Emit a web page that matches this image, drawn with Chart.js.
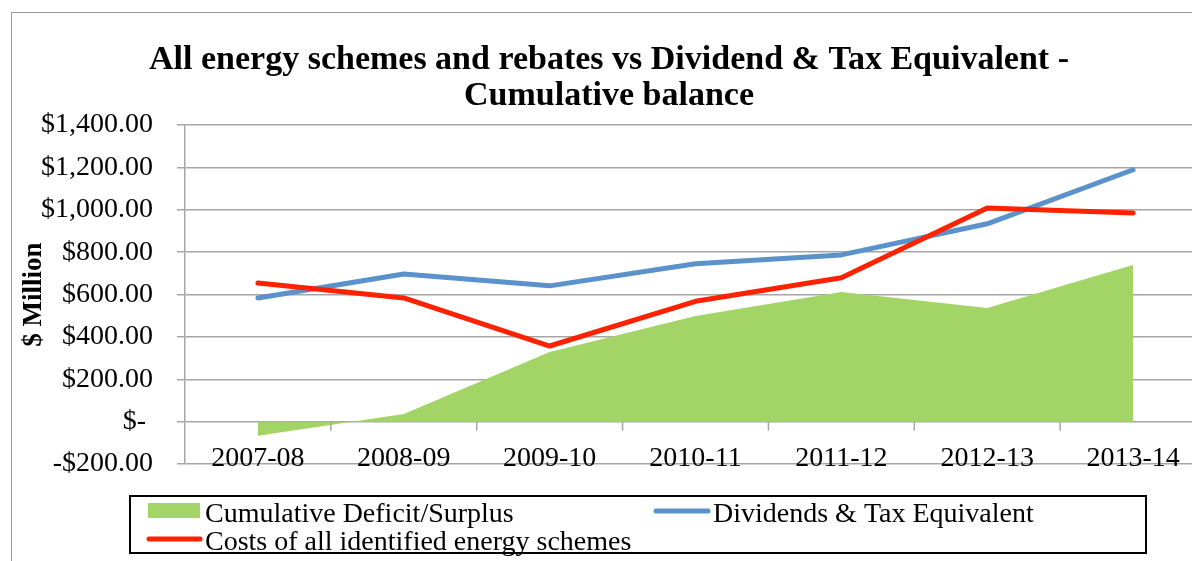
<!DOCTYPE html>
<html>
<head>
<meta charset="utf-8">
<script src="https://cdn.jsdelivr.net/npm/chart.js@4.4.0/dist/chart.umd.min.js"></script>
<style>
    html, body { margin: 0; padding: 0; background: #fff; overflow: hidden; width: 1192px; height: 561px; }
    #frame { position: absolute; left: 11px; top: 12px; width: 1300px; height: 700px; border: 1px solid #999; }
    #chart { position: absolute; left: 0; top: 0; }
</style>
</head>
<body>
<div id="frame"></div>
<canvas id="chart" width="1242" height="580"></canvas>
<script>
const years = ["2007-08", "2008-09", "2009-10", "2010-11", "2011-12", "2012-13", "2013-14"];
const surplus = [-67, 36, 329, 499, 612, 537, 740];
const dividends = [584, 697, 641, 745, 787, 934, 1189];
const costs = [655, 584, 357, 568, 679, 1009, 985];
const yMin = -200;
const yMax = 1400;
const yStep = 200;

const SERIF = "'Liberation Serif', 'Times New Roman', serif";

function formatDollars(v) {
    if (v === 0) return "$- ";
    const abs = Math.abs(v).toLocaleString("en-US", { minimumFractionDigits: 2, maximumFractionDigits: 2 });
    return (v < 0 ? "-$" : "$") + abs;
}

// small tick marks on the zero line, between categories
const zeroTicks = {
    id: "zeroTicks",
    afterDatasetsDraw(chart) {
        const x = chart.scales.x;
        const y = chart.scales.y;
        const ctx = chart.ctx;
        const step = x.getPixelForValue(1) - x.getPixelForValue(0);
        const y0 = y.getPixelForValue(0);
        ctx.save();
        ctx.strokeStyle = "#a6a6a6";
        ctx.lineWidth = 1.5;
        for (let i = 1; i < years.length; i++) {
            const px = x.getPixelForValue(i) - step / 2;
            ctx.beginPath();
            ctx.moveTo(px, y0);
            ctx.lineTo(px, y0 + 9);
            ctx.stroke();
        }
        ctx.restore();
    }
};

// category labels sit low, resting on the bottom gridline (Excel "low" labels)
const lowLabels = {
    id: "lowLabels",
    afterDraw(chart) {
        const x = chart.scales.x;
        const ctx = chart.ctx;
        ctx.save();
        ctx.font = "28px " + SERIF;
        ctx.fillStyle = "#000";
        ctx.textAlign = "center";
        ctx.textBaseline = "alphabetic";
        chart.data.labels.forEach((lab, i) => {
            ctx.fillText(lab, x.getPixelForValue(i), chart.chartArea.bottom + 2);
        });
        ctx.restore();
    }
};

// boxed legend like the spreadsheet one
const boxLegend = {
    id: "boxLegend",
    afterDraw(chart) {
        const ctx = chart.ctx;
        const ds = chart.data.datasets;
        ctx.save();
        ctx.strokeStyle = "#000";
        ctx.lineWidth = 2;
        ctx.strokeRect(130, 496, 1016, 57);

        ctx.font = "28px " + SERIF;
        ctx.textBaseline = "alphabetic";

        // green area swatch
        ctx.fillStyle = ds[0].backgroundColor;
        ctx.fillRect(148, 503, 52, 15);
        ctx.fillStyle = "#000";
        ctx.fillText(ds[0].label, 205, 522);

        // blue line
        ctx.lineCap = "round";
        ctx.lineWidth = 5;
        ctx.strokeStyle = ds[1].borderColor;
        ctx.beginPath();
        ctx.moveTo(656, 511);
        ctx.lineTo(708, 511);
        ctx.stroke();
        ctx.fillText(ds[1].label, 713, 522);

        // red line
        ctx.strokeStyle = ds[2].borderColor;
        ctx.beginPath();
        ctx.moveTo(149, 539);
        ctx.lineTo(200, 539);
        ctx.stroke();
        ctx.fillText(ds[2].label, 205, 550);
        ctx.restore();
    }
};

const chart = new Chart(document.getElementById("chart"), {
    type: "line",
    data: {
        labels: years,
        datasets: [
            {
                label: "Cumulative Deficit/Surplus",
                data: surplus,
                backgroundColor: "#a2d565",
                borderWidth: 0,
                fill: "origin",
                pointRadius: 0,
                order: 3
            },
            {
                label: "Dividends & Tax Equivalent",
                data: dividends,
                borderColor: "#5b92cc",
                borderWidth: 5,
                borderCapStyle: "round",
                borderJoinStyle: "round",
                fill: false,
                pointRadius: 0,
                order: 2
            },
            {
                label: "Costs of all identified energy schemes",
                data: costs,
                borderColor: "#ff2200",
                borderWidth: 5,
                borderCapStyle: "round",
                borderJoinStyle: "round",
                fill: false,
                pointRadius: 0,
                order: 1
            }
        ]
    },
    options: {
        responsive: false,
        animation: false,
        devicePixelRatio: 1,
        layout: { padding: { left: 12, right: 36, top: 0, bottom: 0 } },
        plugins: {
            legend: { display: false },
            tooltip: { enabled: false },
            title: {
                display: true,
                text: ["All energy schemes and rebates vs Dividend & Tax Equivalent -", "Cumulative balance"],
                color: "#000",
                font: { family: SERIF, size: 34, weight: "bold", lineHeight: 1.06 },
                padding: { top: 42, bottom: 11 }
            }
        },
        scales: {
            x: {
                offset: true,
                grid: { display: false },
                border: { display: false },
                ticks: { display: false },
                afterFit(scale) { scale.height = 116; }
            },
            y: {
                min: yMin,
                max: yMax,
                ticks: {
                    stepSize: yStep,
                    color: "#000",
                    font: { family: SERIF, size: 28 },
                    padding: 24,
                    callback: v => formatDollars(v)
                },
                grid: { color: "#a6a6a6", lineWidth: 1.5, tickLength: 8 },
                border: { color: "#a6a6a6", width: 1.5 },
                title: {
                    display: true,
                    text: "$ Million",
                    color: "#000",
                    font: { family: SERIF, size: 27, weight: "bold" },
                    padding: { top: 6, bottom: 0 }
                },
                afterFit(scale) { scale.width = 173; }
            }
        }
    },
    plugins: [zeroTicks, lowLabels, boxLegend]
});
</script>
</body>
</html>
